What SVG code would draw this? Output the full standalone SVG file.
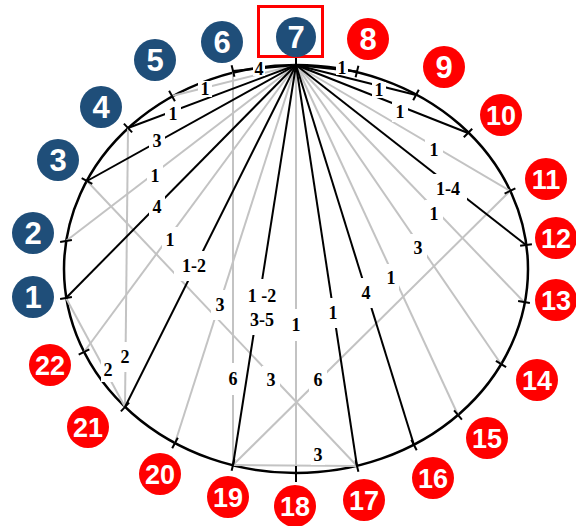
<svg xmlns="http://www.w3.org/2000/svg" width="576" height="526" viewBox="0 0 576 526">
<style>
.bk{stroke:#000;stroke-width:2;fill:none}
.gr{stroke:#C3C3C3;stroke-width:2;fill:none}
.tk{stroke:#000;stroke-width:2}
.bx{fill:#fff;stroke:none}
.lb{font-family:"Liberation Serif","Times New Roman",serif;font-weight:bold;font-size:18px;fill:#000;text-anchor:middle}
.blue circle{fill:#1F4E79}
.red circle{fill:#FF0000}
.nt{font-family:"Liberation Sans",Arial,sans-serif;font-weight:bold;fill:#fff;text-anchor:middle}
.s{font-size:31px}
.d{font-size:27px}
</style>
<rect width="576" height="526" fill="#fff"/>
<ellipse cx="296" cy="269" rx="232" ry="204" fill="none" stroke="#000" stroke-width="2.5"/>
<g id="connectors">
<line class="gr" x1="296" y1="65" x2="66" y2="241"/>
<line class="gr" x1="296" y1="65" x2="84" y2="352"/>
<line class="gr" x1="296" y1="65" x2="175" y2="443"/>
<line class="gr" x1="296" y1="65" x2="296" y2="473"/>
<line class="gr" x1="296" y1="65" x2="458" y2="415"/>
<line class="gr" x1="296" y1="65" x2="501" y2="364"/>
<line class="gr" x1="296" y1="65" x2="524" y2="302"/>
<line class="gr" x1="296" y1="65" x2="510" y2="191"/>
<line class="gr" x1="296" y1="65" x2="172" y2="96"/>
<line class="gr" x1="233" y1="71" x2="233" y2="465"/>
<line class="gr" x1="128" y1="128" x2="125" y2="407"/>
<line class="gr" x1="87" y1="181" x2="357" y2="466"/>
<line class="gr" x1="510" y1="191" x2="233" y2="465"/>
<line class="gr" x1="233" y1="465" x2="357" y2="466"/>
<line class="gr" x1="66" y1="298" x2="125" y2="407"/>
<line class="bk" x1="296" y1="65" x2="233" y2="71"/>
<line class="bk" x1="296" y1="65" x2="357" y2="71.5"/>
<line class="bk" x1="296" y1="65" x2="128" y2="128"/>
<line class="bk" x1="296" y1="65" x2="87" y2="181"/>
<line class="bk" x1="296" y1="65" x2="66" y2="298"/>
<line class="bk" x1="296" y1="65" x2="125" y2="407"/>
<line class="bk" x1="296" y1="65" x2="233" y2="465"/>
<line class="bk" x1="296" y1="65" x2="357" y2="466"/>
<line class="bk" x1="296" y1="65" x2="414" y2="445"/>
<line class="bk" x1="296" y1="65" x2="526" y2="245"/>
<line class="bk" x1="296" y1="65" x2="468" y2="133"/>
<line class="bk" x1="296" y1="65" x2="416" y2="95"/>
<g id="label-boxes">
<rect class="bx" x="253" y="62" width="12" height="14"/>
<rect class="bx" x="336" y="61" width="12" height="14"/>
<rect class="bx" x="198" y="81" width="14" height="16"/>
<rect class="bx" x="372" y="82" width="14" height="16"/>
<rect class="bx" x="165" y="104" width="16" height="20"/>
<rect class="bx" x="392" y="102" width="16" height="20"/>
<rect class="bx" x="149" y="129" width="16" height="24"/>
<rect class="bx" x="147" y="163" width="16" height="26"/>
<rect class="bx" x="149" y="194" width="16" height="26"/>
<rect class="bx" x="162" y="227" width="16" height="26"/>
<rect class="bx" x="174" y="251" width="40" height="30"/>
<rect class="bx" x="211" y="290" width="18" height="30"/>
<rect class="bx" x="245" y="279" width="34" height="56"/>
<rect class="bx" x="288" y="309" width="16" height="32"/>
<rect class="bx" x="325" y="298" width="16" height="30"/>
<rect class="bx" x="358" y="278" width="16" height="30"/>
<rect class="bx" x="383" y="264" width="16" height="28"/>
<rect class="bx" x="409" y="234" width="18" height="28"/>
<rect class="bx" x="425" y="200" width="18" height="28"/>
<rect class="bx" x="429" y="174" width="38" height="30"/>
<rect class="bx" x="425" y="137" width="18" height="26"/>
<rect class="bx" x="225" y="363" width="16" height="32"/>
<rect class="bx" x="262" y="366" width="18" height="28"/>
<rect class="bx" x="309" y="366" width="18" height="28"/>
<rect class="bx" x="311" y="445" width="14" height="20"/>
<rect class="bx" x="118" y="342" width="14" height="30"/>
<rect class="bx" x="101" y="358" width="14" height="24"/>
</g>
<g id="labels">
<text class="lb" x="259" y="75">4</text>
<text class="lb" x="342" y="74">1</text>
<text class="lb" x="205" y="95">1</text>
<text class="lb" x="379" y="96">1</text>
<text class="lb" x="173" y="120">1</text>
<text class="lb" x="400" y="118">1</text>
<text class="lb" x="157" y="147">3</text>
<text class="lb" x="155" y="182">1</text>
<text class="lb" x="157" y="213">4</text>
<text class="lb" x="170" y="246">1</text>
<text class="lb" x="194" y="272">1-2</text>
<text class="lb" x="220" y="311">3</text>
<text class="lb" x="262" y="302">1 -2</text>
<text class="lb" x="262" y="326">3-5</text>
<text class="lb" x="296" y="331">1</text>
<text class="lb" x="333" y="319">1</text>
<text class="lb" x="366" y="299">4</text>
<text class="lb" x="391" y="284">1</text>
<text class="lb" x="418" y="254">3</text>
<text class="lb" x="434" y="220">1</text>
<text class="lb" x="448" y="195">1-4</text>
<text class="lb" x="434" y="156">1</text>
<text class="lb" x="233" y="385">6</text>
<text class="lb" x="271" y="386">3</text>
<text class="lb" x="318" y="386">6</text>
<text class="lb" x="318" y="461">3</text>
<text class="lb" x="125" y="363">2</text>
<text class="lb" x="108" y="376">2</text>
</g>
</g>
<g id="ticks">
<line class="tk" x1="60.1" y1="299" x2="71.9" y2="297"/>
<line class="tk" x1="60.1" y1="241.9" x2="71.9" y2="240.1"/>
<line class="tk" x1="81.7" y1="178.1" x2="92.3" y2="183.9"/>
<line class="tk" x1="123.9" y1="123.6" x2="132.1" y2="132.4"/>
<line class="tk" x1="169.1" y1="90.8" x2="174.9" y2="101.2"/>
<line class="tk" x1="231.6" y1="65.2" x2="234.4" y2="76.8"/>
<line class="tk" x1="296" y1="58" x2="296" y2="71"/>
<line class="tk" x1="358.4" y1="65.7" x2="355.6" y2="77.3"/>
<line class="tk" x1="418.8" y1="89.7" x2="413.2" y2="100.3"/>
<line class="tk" x1="472.2" y1="128.7" x2="463.8" y2="137.3"/>
<line class="tk" x1="515.4" y1="188.4" x2="504.6" y2="193.6"/>
<line class="tk" x1="531.9" y1="244.2" x2="520.1" y2="245.8"/>
<line class="tk" x1="529.9" y1="303.1" x2="518.1" y2="300.9"/>
<line class="tk" x1="506.1" y1="367.1" x2="495.9" y2="360.9"/>
<line class="tk" x1="461.9" y1="419.6" x2="454.1" y2="410.4"/>
<line class="tk" x1="416.7" y1="450.3" x2="411.3" y2="439.7"/>
<line class="tk" x1="358.4" y1="471.8" x2="355.6" y2="460.2"/>
<line class="tk" x1="296" y1="466" x2="296" y2="482"/>
<line class="tk" x1="231.6" y1="470.8" x2="234.4" y2="459.2"/>
<line class="tk" x1="172.2" y1="448.3" x2="177.8" y2="437.7"/>
<line class="tk" x1="120.9" y1="411.4" x2="129.1" y2="402.6"/>
<line class="tk" x1="78.7" y1="354.7" x2="89.3" y2="349.3"/>
</g>
<g id="n1" class="blue"><circle cx="33" cy="297" r="21"/><text class="nt s" x="33" y="308">1</text></g>
<g id="n2" class="blue"><circle cx="33" cy="233" r="21"/><text class="nt s" x="33" y="244">2</text></g>
<g id="n3" class="blue"><circle cx="58" cy="160" r="21"/><text class="nt s" x="58" y="171">3</text></g>
<g id="n4" class="blue"><circle cx="101" cy="107" r="21"/><text class="nt s" x="101" y="118">4</text></g>
<g id="n5" class="blue"><circle cx="155" cy="60" r="21"/><text class="nt s" x="155" y="71">5</text></g>
<g id="n6" class="blue"><circle cx="222" cy="42" r="21"/><text class="nt s" x="222" y="53">6</text></g>
<g id="n7" class="blue"><rect x="258.5" y="6.5" width="64" height="50" fill="none" stroke="#FF0000" stroke-width="3"/><circle cx="296" cy="37" r="20"/><text class="nt s" x="296" y="48">7</text></g>
<g id="n8" class="red"><circle cx="368" cy="39" r="21"/><text class="nt s" x="368" y="50">8</text></g>
<g id="n9" class="red"><circle cx="444" cy="67" r="21"/><text class="nt s" x="444" y="78">9</text></g>
<g id="n10" class="red"><circle cx="501" cy="115" r="21"/><text class="nt d" x="501" y="124.7">10</text></g>
<g id="n11" class="red"><circle cx="546" cy="179" r="21"/><text class="nt d" x="546" y="188.7">11</text></g>
<g id="n12" class="red"><circle cx="556" cy="238" r="21"/><text class="nt d" x="556" y="247.7">12</text></g>
<g id="n13" class="red"><circle cx="556" cy="300" r="21"/><text class="nt d" x="556" y="309.7">13</text></g>
<g id="n14" class="red"><circle cx="537" cy="380" r="21"/><text class="nt d" x="537" y="389.7">14</text></g>
<g id="n15" class="red"><circle cx="487" cy="438" r="21"/><text class="nt d" x="487" y="447.7">15</text></g>
<g id="n16" class="red"><circle cx="433" cy="478" r="21"/><text class="nt d" x="433" y="487.7">16</text></g>
<g id="n17" class="red"><circle cx="364" cy="500" r="21"/><text class="nt d" x="364" y="509.7">17</text></g>
<g id="n18" class="red"><circle cx="295" cy="506" r="21"/><text class="nt d" x="295" y="515.7">18</text></g>
<g id="n19" class="red"><circle cx="228" cy="497" r="21"/><text class="nt d" x="228" y="506.7">19</text></g>
<g id="n20" class="red"><circle cx="160" cy="474" r="21"/><text class="nt d" x="160" y="483.7">20</text></g>
<g id="n21" class="red"><circle cx="88" cy="427" r="21"/><text class="nt d" x="88" y="436.7">21</text></g>
<g id="n22" class="red"><circle cx="50" cy="365" r="21"/><text class="nt d" x="50" y="374.7">22</text></g>
</svg>
